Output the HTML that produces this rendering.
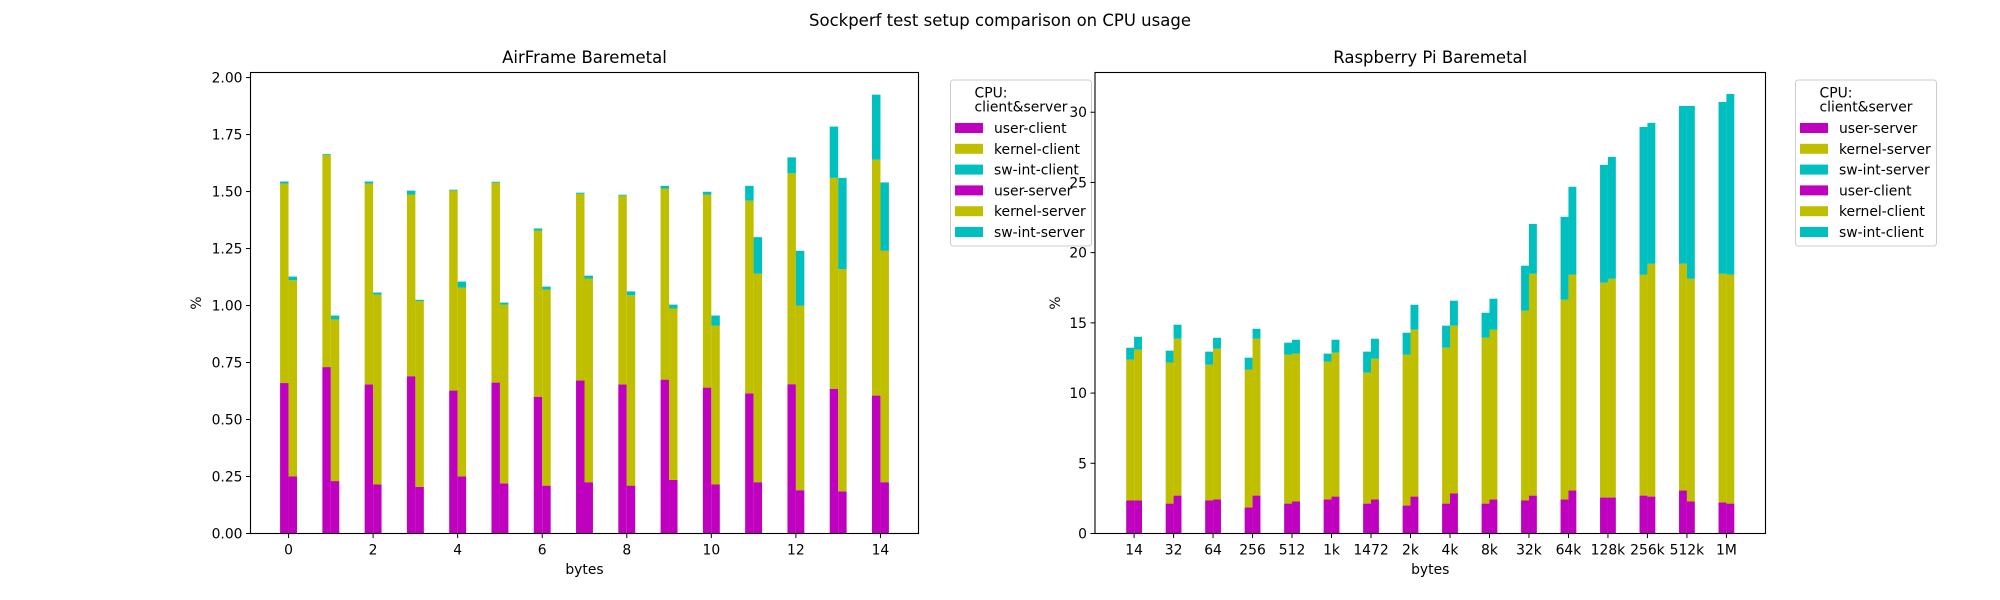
<!DOCTYPE html>
<html><head><meta charset="utf-8"><style>
html,body{margin:0;padding:0;background:#fff;}
svg{display:block;font-family:"DejaVu Sans","Liberation Sans",sans-serif;}
</style></head><body>
<svg id="fig" width="2000" height="600" viewBox="0 0 2000 600" xmlns="http://www.w3.org/2000/svg">
<rect width="2000" height="600" fill="#fff"/>
<text x="1000" y="26" font-size="16.5" text-anchor="middle">Sockperf test setup comparison on CPU usage</text>
<g id="left"></g>
<g id="right"></g>
</svg>
<script>
// ---- AirFrame data ----
const afCats = ['0','1','2','3','4','5','6','7','8','9','10','11','12','13','14'];
const afUserClient = [0.66,0.73,0.654,0.69,0.627,0.662,0.60,0.671,0.654,0.675,0.64,0.615,0.655,0.635,0.605];
const afKernelClient = [0.875,0.93,0.881,0.797,0.877,0.877,0.729,0.819,0.828,0.838,0.846,0.845,0.925,0.925,1.035];
const afSwClient = [0.009,0.004,0.009,0.017,0.004,0.004,0.009,0.005,0.004,0.012,0.013,0.065,0.07,0.225,0.285];
const afUserServer = [0.25,0.23,0.215,0.205,0.25,0.22,0.21,0.225,0.21,0.235,0.215,0.225,0.19,0.185,0.225];
const afKernelServer = [0.861,0.709,0.833,0.815,0.829,0.784,0.86,0.893,0.835,0.752,0.697,0.915,0.81,0.975,1.015];
const afSwServer = [0.016,0.017,0.009,0.005,0.026,0.009,0.013,0.013,0.017,0.017,0.044,0.16,0.24,0.40,0.30];
const afYTicks = ['0.00','0.25','0.50','0.75','1.00','1.25','1.50','1.75','2.00'];
const afXTicks = [0,2,4,6,8,10,12,14];
// ---- Raspberry data ----
const rpCats = ['14','32','64','256','512','1k','1472','2k','4k','8k','32k','64k','128k','256k','512k','1M'];
const rpUserServer = [2.35,2.13,2.35,1.85,2.13,2.42,2.13,1.99,2.13,2.13,2.35,2.42,2.56,2.70,3.06,2.21];
const rpKernelServer = [10.03,10.04,9.67,9.82,10.60,9.82,9.32,10.74,11.10,11.81,13.51,14.23,15.30,15.73,16.15,16.29];
const rpSwServer = [0.85,0.85,0.93,0.85,0.86,0.57,1.50,1.57,1.57,1.78,3.21,5.90,8.39,10.52,11.24,12.23];
const rpUserClient = [2.35,2.70,2.42,2.70,2.28,2.63,2.42,2.63,2.85,2.42,2.70,3.06,2.56,2.63,2.28,2.13];
const rpKernelClient = [10.74,11.17,10.74,11.17,10.53,10.25,10.03,11.88,11.95,12.09,15.80,15.37,15.58,16.58,15.86,16.30];
const rpSwClient = [0.92,1.00,0.78,0.71,0.99,0.92,1.42,1.78,1.78,2.21,3.55,6.26,8.68,10.03,12.31,12.87];
const rpYTicks = [0,5,10,15,20,25,30];

const NS='http://www.w3.org/2000/svg';
const C_USER='#bf00bf', C_KERN='#bfbf00', C_SW='#00bfbf';
function mk(parent,tag,attrs,txt){const e=document.createElementNS(NS,tag);for(const k in attrs)e.setAttribute(k,attrs[k]);if(txt!==undefined)e.textContent=txt;parent.appendChild(e);return e;}

function drawChart(g,cfg){
  const L=cfg.left,R=cfg.right,T=72.5,B=533.5;
  const xs=v=>L+(v-cfg.xmin)/(cfg.xmax-cfg.xmin)*(R-L);
  const ys=v=>B-(v-0)/(cfg.ymax)*(B-T);
  const t=mk(g,'text',{x:(L+R)/2,y:63,'font-size':16.5,'text-anchor':'middle'},cfg.title);
  
  
  // bars
  const w=0.2;
  cfg.cats.forEach((c,i)=>{
    const stacks=[[cfg.s1,-w],[cfg.s2,0]];
    stacks.forEach(([ser,off],si)=>{
      let base=0;
      ser.forEach((arr,k)=>{
        const v=arr[i];
        const x0=xs(i+off),x1=xs(i+off+w);
        const r=mk(g,'rect',{x:x0,y:ys(base+v),width:x1-x0,height:ys(base)-ys(base+v),fill:[C_USER,C_KERN,C_SW][k]});
        
        
        base+=v;
      });
    });
  });
  // axes frame
  const fr=mk(g,'rect',{x:L,y:T,width:R-L,height:B-T,fill:'none',stroke:'#000','stroke-width':1.1});
  
  
  // y ticks
  cfg.yticks.forEach(tk=>{
    const v=parseFloat(tk),y=ys(v);
    mk(g,'line',{x1:L-4.5,x2:L,y1:y,y2:y,stroke:'#000','stroke-width':1});
    const tl=mk(g,'text',{x:L-8,y:y+5,'font-size':13.9,'text-anchor':'end'},tk);
    
    
  });
  // x ticks
  cfg.xticks.forEach(([pos,lab])=>{
    const x=xs(pos);
    mk(g,'line',{x1:x,x2:x,y1:B,y2:B+4.5,stroke:'#000','stroke-width':1});
    const tl=mk(g,'text',{x:x,y:B+21,'font-size':13.9,'text-anchor':'middle'},lab);
    
    
  });
  const xl=mk(g,'text',{x:(L+R)/2,y:574,'font-size':13.9,'text-anchor':'middle'},'bytes');
  
  
  const yl=mk(g,'text',{x:0,y:0,'font-size':13.9,'text-anchor':'middle',transform:'translate('+cfg.ylabX+','+((T+B)/2)+') rotate(-90)'},'%');
  
  
  // legend
  const lx=cfg.legX;
  const lg=mk(g,'g',{});
  
  
  mk(lg,'rect',{x:lx,y:80,width:141,height:166,rx:3,fill:'#fff',stroke:'#ccc','stroke-width':1});
  mk(lg,'text',{x:lx+24,y:97.5,'font-size':13.9},'CPU:');
  mk(lg,'text',{x:lx+24,y:111.5,'font-size':13.9},'client&server');
  cfg.legend.forEach((lab,k)=>{
    const cy=128+k*20.8;
    const p=mk(lg,'rect',{x:lx+4.5,y:cy-5,width:28,height:10,fill:[C_USER,C_KERN,C_SW][k%3]});
    
    
    const tx=mk(lg,'text',{x:lx+43.5,y:cy+5,'font-size':13.9},lab);
    
    
  });
}

drawChart(document.getElementById('left'),{
  title:'AirFrame Baremetal',left:250.5,right:918.5,xmin:-0.9,xmax:14.9,ymax:2.0222,
  cats:afCats,
  s1:[afUserClient,afKernelClient,afSwClient],
  s2:[afUserServer,afKernelServer,afSwServer],
  names:[['user-client','kernel-client','sw-int-client'],['user-server','kernel-server','sw-int-server']],
  yticks:afYTicks,
  xticks:afXTicks.map(v=>[v,String(v)]),
  ylabX:201,legX:950.5,
  legend:['user-client','kernel-client','sw-int-client','user-server','kernel-server','sw-int-server']
});
drawChart(document.getElementById('right'),{
  title:'Raspberry Pi Baremetal',left:1095,right:1765.5,xmin:-0.99,xmax:15.99,ymax:32.83,
  cats:rpCats,
  s1:[rpUserServer,rpKernelServer,rpSwServer],
  s2:[rpUserClient,rpKernelClient,rpSwClient],
  names:[['user-server','kernel-server','sw-int-server'],['user-client','kernel-client','sw-int-client']],
  yticks:rpYTicks.map(String),
  xticks:rpCats.map((c,i)=>[i,c]),
  ylabX:1060,legX:1795.5,
  legend:['user-server','kernel-server','sw-int-server','user-client','kernel-client','sw-int-client']
});
</script>
</body></html>
